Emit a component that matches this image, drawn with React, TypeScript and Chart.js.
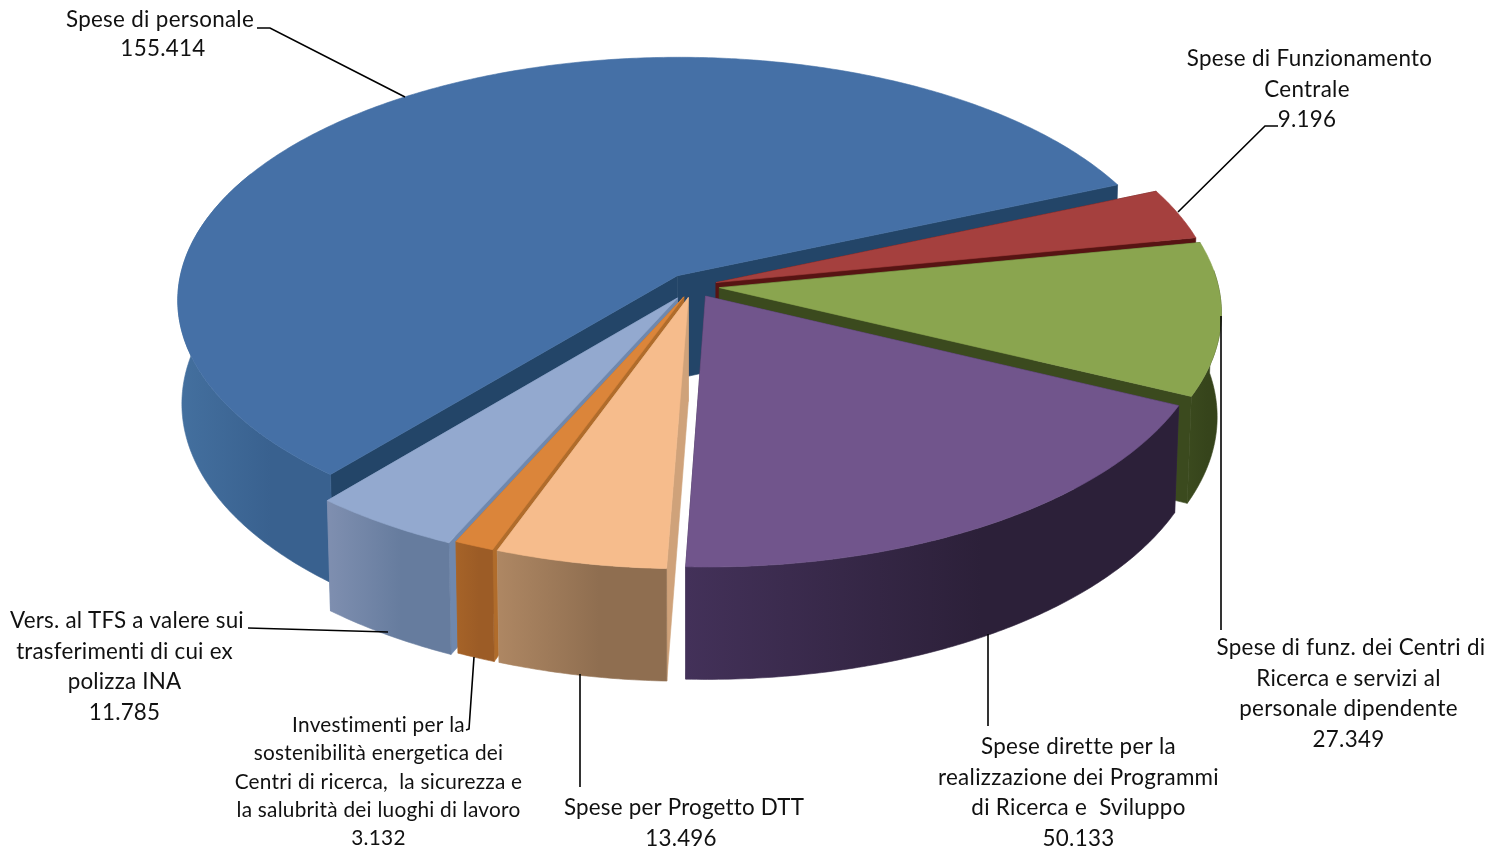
import React, { useEffect, useRef } from "react";
import { Chart, registerables } from "chart.js";

Chart.register(...registerables);

const categories = [
  "Spese di personale",
  "Spese di Funzionamento Centrale",
  "Spese di funz. dei Centri di Ricerca e servizi al personale dipendente",
  "Spese dirette per la realizzazione dei Programmi di Ricerca e  Sviluppo",
  "Spese per Progetto DTT",
  "Investimenti per la sostenibilità energetica dei Centri di ricerca,  la sicurezza e la salubrità dei luoghi di lavoro",
  "Vers. al TFS a valere sui trasferimenti di cui ex polizza INA",
];
const values = [155414, 9196, 27349, 50133, 13496, 3132, 11785];

const topColors = ["#4570A6", "#A5403E", "#8AA54F", "#71558C", "#F6BC8C", "#DB853A", "#93A9CF"];
const cutColors = ["#234568", "#571413", "#3B4A1E", "#3A2A4E", "#CFA27A", "#B06C2B", "#6F88AE"];
const wallLeft = ["#44709F", "#7A2B2A", "#3B4A1E", "#433159", "#AE8763", "#A66328", "#7F8FB0"];
const wallRight = ["#39618F", "#7A2B2A", "#36441B", "#2C2039", "#8F6E50", "#9C5C26", "#667C9E"];
const explode = [22, 20, 22, 20, 20, 20, 24];

const labelBlocks = [
  { x: 163, first: -3, y: 20, step: 29, size: 22.4, ls: 0.3, lines: ["Spese di personale"], value: 0 },
  { x: 1307, first: 2.5, y: 59, step: 30.5, size: 22.4, ls: 0.3, lines: ["Spese di Funzionamento", "Centrale"], value: 1 },
  { x: 1348.5, first: 2.5, y: 648, step: 30.5, size: 22.4, ls: 0.3, lines: ["Spese di funz. dei Centri di", "Ricerca e servizi al", "personale dipendente"], value: 2 },
  { x: 1078.5, first: 0, y: 747, step: 30.5, size: 22.4, ls: 0.3, lines: ["Spese dirette per la", "realizzazione dei Programmi", "di Ricerca e  Sviluppo"], value: 3 },
  { x: 681, first: 3, y: 808, step: 30.5, size: 22.4, ls: 0.2, lines: ["Spese per Progetto DTT"], value: 4 },
  { x: 378.5, first: 0, y: 725, step: 28.4, size: 20.8, ls: 0.25, lines: ["Investimenti per la", "sostenibilità energetica dei", "Centri di ricerca,  la sicurezza e", "la salubrità dei luoghi di lavoro"], value: 5 },
  { x: 124.5, first: 2.5, y: 621, step: 30.5, size: 22.4, ls: 0.2, lines: ["Vers. al TFS a valere sui", "trasferimenti di cui ex", "polizza INA"], value: 6 },
];
const leaders = [
  [[257, 28], [270, 28], [405, 97]],
  [[1278, 126], [1265, 126], [1178, 212]],
  [[1221, 316], [1221, 630]],
  [[988, 634], [988, 726]],
  [[580, 674], [580, 787]],
  [[474, 657], [469, 729], [466, 730]],
  [[248, 628], [388, 632]],
];

const view = { cx: 693, cy: 286, A: 499, B: 242, C: 104, p: 0.099, q: 0.008 };
const project = (x: number, y: number, z: number) => {
  const d = 1 - view.p * y + view.q * z;
  return [view.cx + (view.A * x) / d, view.cy + (view.B * y + view.C * z) / d];
};
const fmt = (n: number) => String(n).replace(/\B(?=(\d{3})+$)/g, ".");

const poly = (ctx: CanvasRenderingContext2D, pts: number[][], fill: any) => {
  ctx.beginPath();
  pts.forEach((p, i) => (i ? ctx.lineTo(p[0], p[1]) : ctx.moveTo(p[0], p[1])));
  ctx.closePath();
  ctx.fillStyle = fill;
  ctx.strokeStyle = fill;
  ctx.lineWidth = 0.6;
  ctx.fill();
  ctx.stroke();
};

const pie3d = {
  id: "pie3d",
  beforeDatasetsDraw(chart: any) {
    const ctx = chart.ctx as CanvasRenderingContext2D;
    const arcs = chart.getDatasetMeta(0).data.map((el: any, i: number) => {
      const R = el.outerRadius;
      const a0 = el.startAngle;
      const a1 = el.endAngle;
      const mid = (a0 + a1) / 2;
      const o = el.options.offset / R;
      return { i, a0, a1, mid, ox: Math.cos(mid) * o, oy: Math.sin(mid) * o, fill: el.options.backgroundColor };
    });
    arcs.sort((a: any, b: any) => Math.sin(a.mid) - Math.sin(b.mid));
    for (const s of arcs) {
      const n = Math.max(4, Math.ceil((s.a1 - s.a0) / 0.01));
      const rim: number[][] = [];
      for (let k = 0; k <= n; k++) {
        const a = s.a0 + ((s.a1 - s.a0) * k) / n;
        rim.push([s.ox + Math.cos(a), s.oy + Math.sin(a)]);
      }
      const at = (q: number[], z: number) => project(q[0], q[1], z);
      const apex = [s.ox, s.oy];
      const cut = (q: number[]) => poly(ctx, [at(apex, 0), at(q, 0), at(q, 1), at(apex, 1)], cutColors[s.i]);
      cut(rim[0]);
      cut(rim[n]);
      const vis = rim.filter((q) => q[1] - s.oy > -0.45 && (q[0] - s.ox < 0 || q[1] - s.oy > -0.08));
      if (vis.length > 1) {
        const pts = [...vis.map((q) => at(q, 0)), ...vis.slice().reverse().map((q) => at(q, 1))];
        const xs = pts.map((q) => q[0]);
        const g = ctx.createLinearGradient(Math.min(...xs), 0, Math.max(...xs), 0);
        g.addColorStop(0, wallLeft[s.i]);
        g.addColorStop(0.6, wallRight[s.i]);
        g.addColorStop(1, wallRight[s.i]);
        poly(ctx, pts, g);
      }
      poly(ctx, [at(apex, 0), ...rim.map((q) => at(q, 0))], s.fill);
    }
    return false;
  },
  afterDraw(chart: any) {
    const ctx = chart.ctx as CanvasRenderingContext2D;
    ctx.save();
    ctx.strokeStyle = "#000";
    ctx.lineWidth = 1.6;
    for (const l of leaders) {
      ctx.beginPath();
      l.forEach((p, i) => (i ? ctx.lineTo(p[0], p[1]) : ctx.moveTo(p[0], p[1])));
      ctx.stroke();
    }
    ctx.fillStyle = "#111";
    ctx.textAlign = "center";
    ctx.textBaseline = "middle";
    for (const b of labelBlocks) {
      ctx.font = `${b.size}px Lato`;
      (ctx as any).letterSpacing = `${b.ls}px`;
      const all = [...b.lines, fmt(values[b.value])];
      all.forEach((t, i) => ctx.fillText(t, b.x + (i === 0 ? b.first : 0), b.y + i * b.step));
    }
    ctx.restore();
  },
};

export default function App() {
  const ref = useRef<HTMLCanvasElement>(null);
  useEffect(() => {
    const chart = new Chart(ref.current!, {
      type: "pie",
      data: {
        labels: categories,
        datasets: [{ data: values, backgroundColor: topColors, offset: explode, borderWidth: 0 }],
      },
      options: {
        animation: false,
        responsive: false,
        devicePixelRatio: 1,
        rotation: 220,
        plugins: { legend: { display: false }, tooltip: { enabled: false } },
      },
      plugins: [pie3d],
    } as any);
    return () => chart.destroy();
  }, []);
  return (
    <div style={{ position: "fixed", left: 0, top: 0, background: "#fff" }}>
      <canvas ref={ref} width={1498} height={852} style={{ display: "block" }} />
    </div>
  );
}
